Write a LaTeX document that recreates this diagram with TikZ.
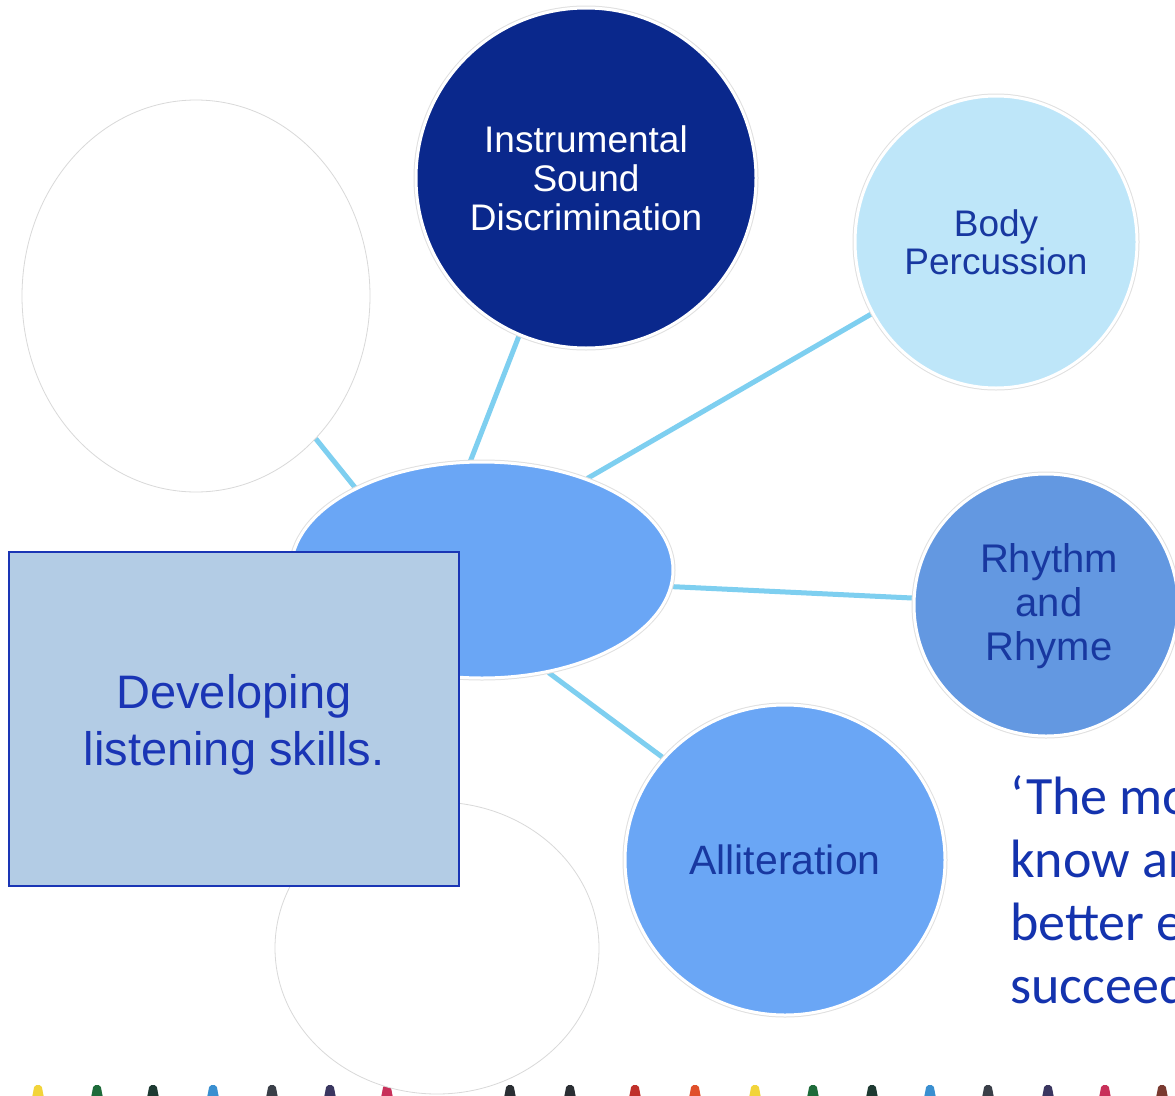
\documentclass[tikz,border=0pt]{standalone}
\usepackage{fontspec}
\setmainfont{Liberation Sans}
\newfontfamily\quotefont{Carlito}
\usetikzlibrary{shapes.geometric,backgrounds}
\definecolor{navyc}{HTML}{0A288C}
\definecolor{bodyc}{HTML}{BEE6F9}
\definecolor{centc}{HTML}{6AA6F5}
\definecolor{rhyc}{HTML}{6398E1}
\definecolor{rectc}{HTML}{B3CCE5}
\definecolor{rectb}{HTML}{1A35B5}
\definecolor{textblue}{HTML}{1838A0}
\definecolor{connc}{HTML}{7ECFF0}
\definecolor{quotec}{HTML}{1433AE}
\definecolor{ma}{HTML}{F2D43A}
\definecolor{mb}{HTML}{1E6B3A}
\definecolor{mc}{HTML}{1E3A32}
\definecolor{md}{HTML}{3A8FD0}
\definecolor{me}{HTML}{3A3F48}
\definecolor{mf}{HTML}{3A3660}
\definecolor{mg}{HTML}{C8305A}
\definecolor{mh}{HTML}{2A2E33}
\definecolor{mi}{HTML}{C0302A}
\definecolor{mj}{HTML}{E0502A}
\definecolor{mk}{HTML}{7A3A30}
\begin{document}
\begin{tikzpicture}[x=1pt,y=-1pt,
  ring/.style={ellipse, inner sep=0pt, preaction={draw=black!12, line width=5pt}, draw=white, line width=3pt, align=center},
  blank/.style={ellipse, inner sep=0pt, fill=white, draw=black!15, line width=0.8pt},
  conn/.style={draw=connc, line width=5pt},
  quote/.style={font=\quotefont\fontsize{54}{63}\selectfont, text=quotec, inner sep=0pt, anchor=base west}]
\useasboundingbox (0,0) rectangle (1175,1095);
\begin{scope}[on background layer]
\fill[white] (0,0) rectangle (1175,1095);
\end{scope}
\clip (0,0) rectangle (1175,1095);
% crayon tips along the bottom edge
\foreach \x/\c in {38/ma,97/mb,153/mc,213/md,272/me,330/mf,387/mg,510/mh,570/mh,635/mi,695/mj,755/ma,813/mb,872/mc,930/md,988/me,1048/mf,1105/mg,1162/mk}
  \fill[\c, rounded corners=2pt] (\x-6,1098) -- (\x-3.5,1085) -- (\x+3.5,1085) -- (\x+6,1098) -- cycle;
% shapes
\node[blank, minimum width=348pt, minimum height=392pt] (tl) at (196,296) {};
\node[blank, minimum width=324pt, minimum height=292pt] (bot) at (437,948) {};
\node[ring, fill=navyc, minimum width=340pt, minimum height=340pt, text=white,
  font=\fontsize{37}{39}\selectfont] (ins) at (586,178) {Instrumental\\Sound\\Discrimination};
\node[ring, fill=bodyc, minimum width=282pt, minimum height=292pt, text=textblue,
  font=\fontsize{37}{38}\selectfont] (body) at (996,242) {Body\\Percussion};
\node[ring, fill=centc, minimum width=382pt, minimum height=216pt] (cent) at (482,570) {};
\node[ring, fill=rhyc, minimum width=264pt, minimum height=262pt] (rhy) at (1046,605) {};
\node[text=textblue, font=\fontsize{40}{44}\selectfont, align=center, inner sep=0pt] (rhyt) at (1049,606) {Rhythm\\and\\Rhyme};
\node[ring, fill=centc, minimum width=320pt, minimum height=310pt, text=textblue,
  font=\fontsize{41}{44}\selectfont] (all) at (785,860) {Alliteration};
\node[rectangle, fill=rectc, draw=rectb, line width=2pt, minimum width=450pt, minimum height=334pt] (box) at (234,719) {};
\node[text=rectb, align=center, inner sep=0pt, font=\fontsize{47}{57}\selectfont] (boxt) at (234,725) {Developing\\listening skills.};
% quote (cut by the right edge)
\node[quote] (q1) at (1010,814) {‘The mo};
\node[quote] (q2) at (1010,877) {know ar};
\node[quote] (q3) at (1010,940) {better e};
\node[quote] (q4) at (1010,1003) {succeed};
% connectors behind the shapes
\begin{scope}[on background layer]
\draw[conn] (cent.147.8) -- (tl.-50.9);
\draw[conn] (cent.96.1) -- (ins.247.6);
\draw[conn] (cent.41.6) -- (body.210.5);
\draw[conn] (cent.-5) -- (rhy.177);
\draw[conn] (cent.-57.6) -- (all.140.8);
\end{scope}
\end{tikzpicture}
\end{document}
